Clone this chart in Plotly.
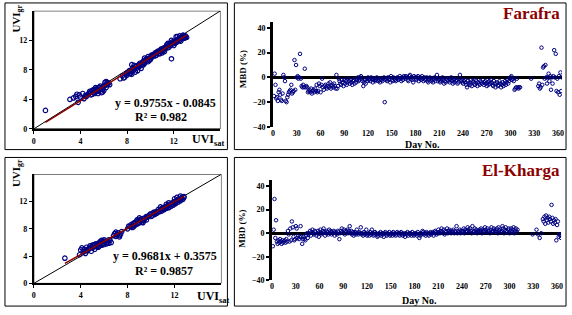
import plotly.graph_objects as go

W, H = 572, 315

def px(x):
    return x / W

def py(y):
    return 1 - y / H

# ---------------- DATA ----------------
# Farafra scatter: satellite UVI vs ground UVI
far_sat = [1.0, 3.1, 3.4, 3.6, 3.8, 3.9, 4.0, 4.2, 4.3, 4.4, 3.7,
           4.6, 4.7, 4.8, 4.9, 5.0, 5.1, 5.2, 5.3, 5.4, 5.5, 5.6, 5.7, 5.8, 5.9, 6.0, 6.1, 6.2, 6.3,
           5.5, 5.8, 6.0, 6.4, 5.2, 5.0, 5.6, 6.2, 6.5, 4.5, 5.3, 5.9,
           7.4, 7.6, 7.7, 7.9, 8.0, 8.1, 8.2, 8.3, 8.4, 8.5, 8.6, 8.7, 8.8, 8.9, 8.6, 8.4, 7.8, 8.2,
           9.0, 9.1, 9.2, 9.3, 9.4, 9.5, 9.6, 9.7, 9.8, 9.9, 10.0, 9.2, 9.5, 9.8, 9.4,
           10.1, 10.2, 10.3, 10.4, 10.5, 10.6, 10.7, 10.8, 10.9, 11.0, 11.1, 11.2, 11.3, 11.4, 11.5,
           11.6, 11.7, 11.8, 11.9, 12.0, 12.1, 12.2, 12.3, 12.4, 12.5, 12.6, 12.7, 12.8, 12.9, 13.0,
           12.5, 12.2, 11.8, 11.5, 10.8, 11.2, 12.0, 12.6, 13.1, 12.8, 11.8, 10.4, 11.0, 12.3,
           4.9, 5.1, 5.4, 5.7, 6.1, 4.8, 5.3, 5.9, 6.3, 8.0, 8.3, 8.5, 8.8, 9.0, 9.3, 9.6, 9.9,
           10.2, 10.5, 10.7, 11.0, 11.3, 11.6, 11.9, 12.1, 12.4, 12.7, 12.9, 10.1, 10.6, 11.1,
           11.7, 12.2, 12.8, 13.0, 9.7, 9.1, 8.7, 10.9, 11.4]
far_gr = [2.5, 4.0, 4.2, 4.4, 3.6, 4.6, 4.3, 4.8, 4.1, 4.5, 4.7,
          4.6, 4.8, 5.1, 4.6, 5.2, 4.9, 5.3, 5.0, 5.4, 5.1, 5.6, 5.3, 5.5, 5.0, 5.8, 6.3, 5.6, 6.0,
          4.8, 4.9, 5.2, 6.2, 4.8, 4.7, 5.2, 6.4, 6.0, 4.4, 5.6, 5.4,
          6.8, 7.2, 6.9, 7.4, 7.3, 7.6, 7.5, 7.8, 7.4, 7.9, 8.1, 7.7, 8.2, 7.9, 8.6, 8.7, 7.0, 7.9,
          8.4, 8.9, 8.6, 9.0, 9.2, 8.9, 9.3, 9.5, 9.1, 9.6, 9.4, 8.2, 9.6, 9.8, 8.7,
          10.0, 9.8, 10.1, 10.3, 10.0, 10.4, 10.2, 10.6, 10.5, 10.8, 10.6, 11.0, 10.9, 11.2, 11.0,
          11.4, 11.3, 11.6, 11.5, 11.8, 11.6, 12.0, 11.8, 12.2, 12.0, 12.4, 12.2, 12.5, 12.3, 12.6,
          12.6, 12.5, 12.0, 11.6, 10.2, 10.5, 11.3, 11.9, 12.4, 12.7, 9.5, 9.9, 10.3, 12.5,
          5.0, 5.3, 5.2, 5.8, 5.9, 4.9, 5.4, 5.7, 6.3, 7.6, 7.5, 8.3, 8.5, 8.7, 8.8, 9.4, 9.3,
          10.0, 10.3, 10.5, 10.6, 11.1, 11.1, 11.8, 11.9, 12.1, 12.5, 12.6, 9.7, 10.5, 10.9,
          11.6, 11.7, 12.3, 12.4, 9.2, 8.7, 8.4, 10.8, 11.4]
far_fit = [0.9755, -0.0845]   # slope, intercept
far_r2 = "0.982"

# El-Kharga scatter
kha_sat = [2.65, 3.9, 4.0, 4.1, 4.2, 4.3, 4.4, 4.5, 4.6, 4.7, 4.8, 4.9, 5.0, 5.1, 5.2, 5.3, 5.4, 5.5,
           5.6, 5.7, 5.8, 5.9, 6.0, 6.1, 6.2, 6.3, 6.4, 6.5, 5.5, 5.8, 6.0, 5.2, 6.6,
           6.8, 6.9, 7.0, 7.1, 7.2, 7.3, 7.4, 7.0, 7.5,
           8.0, 8.2, 8.3, 8.4, 8.5, 8.6, 8.7, 8.8, 8.9, 9.0, 9.1, 9.2, 9.3, 9.4, 9.5, 9.6, 9.7,
           8.5, 8.8, 9.0, 9.3,
           9.8, 10.0, 10.1, 10.2, 10.3, 10.4, 10.5, 10.6, 10.7, 10.8, 10.9, 11.0, 11.1, 11.2, 11.3,
           11.4, 11.5, 11.6, 11.7, 11.8, 11.9, 12.0, 12.1, 12.2, 12.3, 12.4, 12.5, 12.6, 12.7, 12.8,
           12.2, 12.5, 11.5, 12.0, 10.8, 11.3,
           4.5, 4.8, 5.0, 5.3, 5.6, 5.9, 6.2, 6.4, 7.1, 7.3, 8.1, 8.4, 8.6, 8.9, 9.1, 9.4, 9.6,
           10.0, 10.3, 10.6, 10.9, 11.2, 11.5, 11.8, 12.1, 12.3, 12.6, 12.8, 12.4, 11.9, 11.0,
           10.4, 9.9, 4.3, 5.7]
kha_gr = [3.7, 4.2, 4.9, 5.2, 4.6, 5.0, 4.4, 5.3, 4.8, 5.1, 5.5, 4.7, 5.2, 5.6, 5.0, 5.8, 5.4, 5.9,
          5.5, 6.0, 5.6, 5.9, 5.7, 6.2, 5.8, 6.1, 5.9, 6.3, 5.3, 6.3, 6.4, 5.7, 6.0,
          7.0, 7.3, 7.5, 7.1, 7.4, 6.8, 7.2, 6.9, 7.6,
          8.0, 8.3, 8.6, 8.2, 8.8, 8.5, 9.0, 8.7, 9.2, 8.9, 9.3, 9.0, 9.5, 9.2, 9.6, 9.3, 9.7,
          8.3, 9.3, 9.6, 8.9,
          9.9, 10.2, 9.9, 10.4, 10.1, 10.5, 10.3, 10.8, 10.5, 10.9, 10.6, 11.1, 10.8, 11.2, 11.0,
          11.4, 11.1, 11.6, 11.3, 11.8, 11.5, 12.0, 11.7, 12.2, 11.9, 12.4, 12.1, 12.6, 12.3, 12.7,
          12.6, 12.8, 11.8, 12.4, 11.2, 11.6,
          4.9, 5.2, 5.6, 5.4, 5.8, 6.2, 6.0, 6.4, 7.2, 7.0, 8.4, 8.5, 8.9, 8.8, 9.4, 9.5, 9.8,
          9.8, 10.3, 10.5, 10.8, 11.0, 11.4, 11.5, 11.9, 12.2, 12.4, 12.6, 12.3, 11.8, 11.0,
          10.2, 10.1, 4.7, 6.2]
kha_fit = [0.9681, 0.3575]
kha_r2 = "0.9857"

one_to_one = [0, 16]
scatter_ticks = [0, 4, 8, 12]

# Farafra MBD (%) by day number
far_day = list(range(1, 313)) + [326] + list(range(335, 366))
far_mbd = [
    -15, 3, -6, -17, -16, -19, -12, -10, -14, -18, -19, -13, 2, 0, -3, -19, -20, -16, -14, -12,
    -11, -10, -6, -13, -12, -11, 14, -10, 10, 0, 1, -1, 0, 19, -1, -7, -8, -6, -8, 7,
    -8, -7, -8, -12, -11, -10, -12, -9, -13, -11, -10, -12, -9, -11, -6, -12, -11, -5, -7, -12,
    -6, -1, -8, -10, -7, -6, -8, -9, -7, -5, -8, -4, -9, -7, -6, -8, -5, -7, -9, 2,
    -9, -7, -1, -3, -5, -6, -2, -4, -7, -2, -5, -3, -6, -4, -1, -3, -5, -2, -4, -6,
    -3, -2, -5, -1, -4, -2, 0, -3, -2, 0, 1, -1, -3, -7, -4, -2, -5, -1, -3, 0,
    -2, -1, -3, 0, -1, -4, -2, -1, -3, -2, 0, -1, -3, -2, -4, -1, -2, -3, -1, 0,
    -20, -2, -1, -3, 0, -2, -1, -4, 1, -2, -3, 0, -1, -2, -3, -1, 0, -2, -1, 1,
    -1, -3, 0, -2, 1, 0, -1, 1, 0, -2, -3, 1, 2, -1, 0, -2, -4, 1, 0, -1,
    -2, 0, 1, -3, -1, 0, -2, 1, -1, -3, 0, -2, -1, 0, -3, -4, -2, 0, -1, -3,
    -2, -4, -1, 0, -3, -1, 2, -3, -1, -2, -4, -3, -1, 0, -2, -5, -3, -4, -1, -2,
    -3, -1, -4, -2, 0, -3, -5, -2, -4, -1, -3, -2, -5, -4, -1, 2, -3, -2, -4, -5,
    -3, -2, -4, -6, -8, -3, -5, -4, -6, -2, -7, -3, -4, -5, -6, -2, -3, -7, -4, -5,
    -6, -3, -4, -5, -2, -6, -4, -3, -5, -7, -4, -6, -3, -5, -2, -4, -6, -7, -3, -5,
    -8, -5, -4, -7, -6, -3, -5, -8, -6, -4, -7, -5, -3, -6, -4, -2, -5, -3, -1, 0,
    1, -2, -1, -3, -10, -9, -8, -1, -8, -9, -8, -8,
    -1,
    -7, -5, -9, -8, 24, -6, 8, 9, -1, 10, 0, -5, 0, 3, -3, 1, -10, 0, -5, 1,
    22, 0, 19, -11, -1, -12, 1, -14, 4, -11, 0]

# El-Kharga MBD (%) by day number
kha_day = list(range(1, 311)) + [329, 334, 336, 338, 340] + list(range(342, 366))
kha_mbd = [
    -11, 3, 29, -4, 11, -7, -9, -6, -8, -5, -7, -9, -6, -8, -7, -6, -8, -5, -7, 2,
    -1, -7, 4, -6, 10, 5, -3, -6, -5, 6, 4, -4, -2, -5, -3, 6, -3, -9, -5, -3,
    -5, -6, -2, 0, -4, -1, 0, 2, -2, 1, 3, 0, -1, 2, 1, -2, 0, 2, -3, 1,
    3, -1, 0, 2, 4, 1, -2, 0, 2, 1, -1, 3, 0, 2, -1, 1, 0, 2, -2, 1,
    0, -1, 2, 1, -5, 0, 2, 4, 1, 0, 3, -1, 2, 1, 3, 0, 2, 6, 0, 2,
    -1, 1, -2, 0, 1, -1, 3, 0, -1, 1, 0, 5, -1, 0, -2, 1, -1, 0, 3, -2,
    -1, 0, -2, 1, -1, 3, 0, -2, -1, 1, 0, -1, -3, -2, 0, -1, 1, -2, 0, -1,
    -3, 0, 1, -1, -2, 0, -1, 1, -2, -1, 0, -2, 1, -1, 0, -2, -1, 1, 0, -1,
    -2, 0, 1, -1, -2, 0, -1, -3, 0, -1, 1, -2, 0, -1, 0, -2, 1, -1, -2, 0,
    -1, 0, -2, 1, -1, -4, -2, 0, -1, 2, 1, -1, 0, -2, 1, 0, -1, -2, 0, 1,
    -1, 0, 1, -2, 0, 2, 1, -1, 0, 3, 1, 0, 2, 4, 1, 0, 3, -1, 2, 1,
    4, 0, 2, 3, 1, 0, 2, 1, 3, 0, 2, 1, 6, 0, 2, 1, 3, 0, 2, 1,
    2, 4, 0, 3, 1, 2, 5, 3, 1, 4, 2, 0, 6, 1, 2, 4, 1, 3, 0, 2,
    1, 3, 2, 4, 0, 3, 1, 2, 5, 3, 1, 4, 2, 2, 0, 3, 5, 1, 2, 4,
    2, 3, 1, 4, 0, 5, 2, 3, 1, 2, 6, 4, 0, 3, 5, 2, 1, 3, 4, 0,
    2, 4, 1, 3, 5, 0, 2, 4, 1, 3,
    -1, 3, -1, -4, 0,
    12, 10, 14, 8, 15, 11, 13, 9, 14, 12, 10, 24, 13, 8, 11, 9, 12, -6, 7, 10,
    -3, -1, -2, -4]

day_ticks = [0, 30, 60, 90, 120, 150, 180, 210, 240, 270, 300, 330, 360]
mbd_ticks = [-40, -20, 0, 20, 40]

# ---------------- STYLE ----------------
SERIF = "Liberation Serif"
NAVY = "#000080"
DARKRED = "#8B0000"
tick_font = dict(family=SERIF, size=8, color="black", weight="bold")

fig = go.Figure()

def add_scatter_panel(xa, ya, sat, gr, fit):
    fig.add_trace(go.Scatter(x=one_to_one, y=one_to_one, mode="lines",
                             line=dict(color="black", width=1),
                             xaxis=xa, yaxis=ya, showlegend=False, hoverinfo="skip"))
    fig.add_trace(go.Scatter(x=sat, y=gr, mode="markers",
                             marker=dict(symbol="circle-open", size=4.5, color=NAVY,
                                         line=dict(width=1.2, color=NAVY)),
                             xaxis=xa, yaxis=ya, showlegend=False))
    xs = [min(sat), max(sat)]
    ys = [fit[0] * v + fit[1] for v in xs]
    fig.add_trace(go.Scatter(x=xs, y=ys, mode="lines",
                             line=dict(color=DARKRED, width=1.5),
                             xaxis=xa, yaxis=ya, showlegend=False, hoverinfo="skip"))

def add_mbd_panel(xa, ya, days, mbd):
    fig.add_trace(go.Scatter(x=days, y=mbd, mode="markers",
                             marker=dict(symbol="circle-open", size=3.5, color=NAVY,
                                         line=dict(width=1, color=NAVY)),
                             xaxis=xa, yaxis=ya, showlegend=False))

add_scatter_panel("x", "y", far_sat, far_gr, far_fit)
add_mbd_panel("x2", "y2", far_day, far_mbd)
add_scatter_panel("x3", "y3", kha_sat, kha_gr, kha_fit)
add_mbd_panel("x4", "y4", kha_day, kha_mbd)

def scatter_axes(xdom, ydom, anchor_x, anchor_y):
    xa = dict(domain=xdom, range=[0, 16], tickvals=scatter_ticks, anchor=anchor_y,
              showline=True, linewidth=2, linecolor="black", ticks="outside", ticklen=3,
              tickwidth=1, tickcolor="black", showgrid=False, zeroline=False,
              tickfont=tick_font, fixedrange=True)
    ya = dict(domain=ydom, range=[0, 16], tickvals=scatter_ticks, anchor=anchor_x,
              showline=True, linewidth=2, linecolor="black", ticks="outside", ticklen=3,
              tickwidth=1, tickcolor="black", showgrid=False, zeroline=False,
              tickfont=tick_font, fixedrange=True)
    return xa, ya

def mbd_axes(xdom, ydom, anchor_x, anchor_y):
    xa = dict(domain=xdom, range=[0, 365], tickvals=day_ticks, anchor=anchor_y,
              showline=False, ticks="", showgrid=False, zeroline=False,
              tickfont=tick_font, fixedrange=True)
    ya = dict(domain=ydom, range=[-40, 45], tickvals=mbd_ticks, anchor=anchor_x,
              showline=True, linewidth=3, linecolor="black", ticks="outside", ticklen=3,
              tickwidth=2, tickcolor="black", showgrid=False,
              zeroline=True, zerolinewidth=3, zerolinecolor="black",
              tickfont=tick_font, fixedrange=True)
    return xa, ya

x1, y1 = scatter_axes([px(32), px(220)], [py(131), py(11)], "x", "y")
x2, y2 = mbd_axes([px(273), px(564)], [py(129), py(22)], "x2", "y2")
x3, y3 = scatter_axes([px(32), px(221)], [py(288), py(177)], "x3", "y3")
x4, y4 = mbd_axes([px(272), px(563)], [py(285), py(183)], "x4", "y4")

shapes = []
# panel borders
for (l, t, r, b) in [(3, 3, 227, 152), (234, 3, 568, 152), (3, 160, 227, 311), (234, 160, 568, 311)]:
    shapes.append(dict(type="rect", xref="paper", yref="paper",
                       x0=px(l), x1=px(r), y0=py(b), y1=py(t),
                       line=dict(color="black", width=1), layer="below"))
# scatter plot frames (thin top/right)
for xr, yr in [("x", "y"), ("x3", "y3")]:
    shapes.append(dict(type="rect", xref=xr, yref=yr, x0=0, x1=16, y0=0, y1=16,
                       line=dict(color="black", width=1), layer="below"))

def ann(text, x, y, size, angle=0, color="black", xanchor="center"):
    return dict(text=text, x=px(x), y=py(y), xref="paper", yref="paper",
                showarrow=False, textangle=angle, xanchor=xanchor, yanchor="middle",
                font=dict(family=SERIF, size=size, color=color, weight="bold"))

annotations = [
    ann("UVI<sub>gr</sub>", 15, 19, 11, angle=-90),
    ann("UVI<sub>sat</sub>", 207, 142, 12),
    ann("y = %.4fx - %.4f" % (far_fit[0], abs(far_fit[1])), 165, 105, 12),
    ann("R\u00b2 = " + far_r2, 160, 119, 12),
    ann("UVI<sub>gr</sub>", 15, 176, 11, angle=-90),
    ann("UVI<sub>sat</sub>", 212, 302, 12),
    ann("y = %.4fx + %.4f" % (kha_fit[0], kha_fit[1]), 164, 260, 12),
    ann("R\u00b2 = " + kha_r2, 163, 275, 12),
    ann("MBD (%)", 243, 70, 9, angle=-90),
    ann("Day No.", 423, 147, 10),
    ann("MBD (%)", 242, 232, 9, angle=-90),
    ann("Day No.", 420, 305, 10),
    ann("Farafra", 564, 14, 17, color=DARKRED, xanchor="right"),
    ann("El-Kharga", 564, 173, 17, color=DARKRED, xanchor="right"),
]

fig.update_layout(
    width=W, height=H, autosize=False,
    margin=dict(l=0, r=0, t=0, b=0),
    paper_bgcolor="white", plot_bgcolor="white",
    showlegend=False,
    xaxis=x1, yaxis=y1, xaxis2=x2, yaxis2=y2,
    xaxis3=x3, yaxis3=y3, xaxis4=x4, yaxis4=y4,
    shapes=shapes, annotations=annotations,
)

fig.write_html("out.html", config={"displayModeBar": False},
               post_script="document.body.style.margin='0';document.body.style.padding='0';"
                           "document.documentElement.style.overflow='hidden';")
